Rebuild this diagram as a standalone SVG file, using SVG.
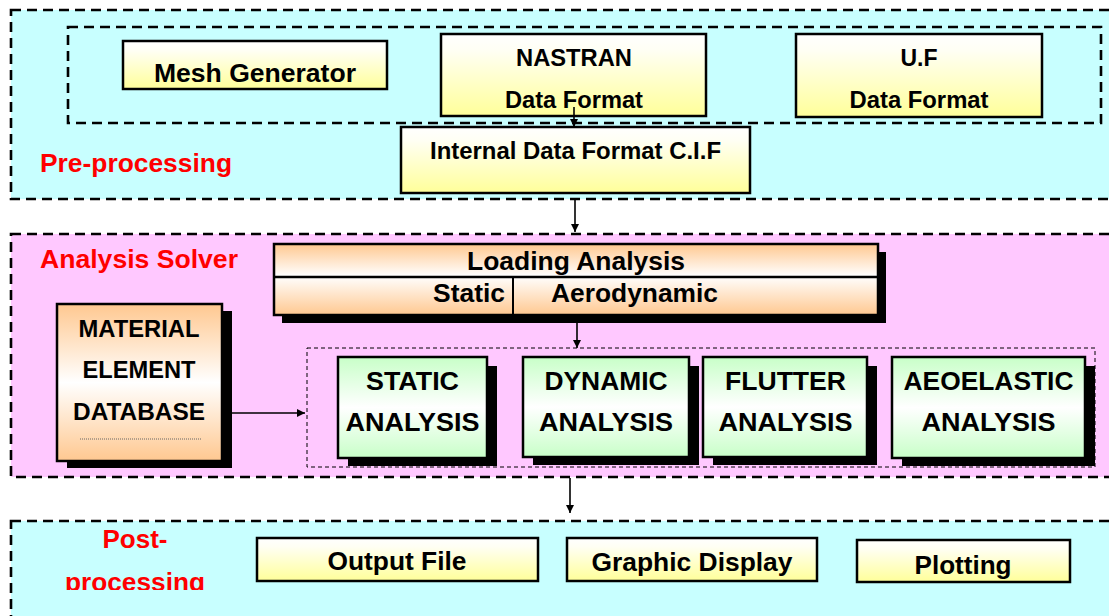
<svg xmlns="http://www.w3.org/2000/svg" width="1109" height="616" viewBox="0 0 1109 616">
<style>
.t{font-family:"Liberation Sans",Arial,sans-serif;font-weight:bold;fill:#000;text-anchor:middle}
.b{font-size:25px}
.s{font-size:23px}
.red{font-family:"Liberation Sans",Arial,sans-serif;font-weight:bold;fill:#FF0000;font-size:25px}
.box{stroke:#000;stroke-width:2.5}
.sh{fill:#000}
.dash{fill:none;stroke:#000;stroke-width:2.6;stroke-dasharray:10 6}
.thin{fill:none;stroke:#000;stroke-width:1;stroke-dasharray:4 3}
.ln{stroke:#000;stroke-width:1.6;fill:none}
</style>
<defs>
<linearGradient id="gy" x1="0" y1="0" x2="0" y2="1"><stop offset="0" stop-color="#FFFFFF"/><stop offset="0.2" stop-color="#FFFFF4"/><stop offset="1" stop-color="#FFFF99"/></linearGradient>
<linearGradient id="go" x1="0" y1="0" x2="0" y2="1"><stop offset="0" stop-color="#FFC890"/><stop offset="0.5" stop-color="#FFFFFF"/><stop offset="1" stop-color="#FFC890"/></linearGradient>
<linearGradient id="gl" x1="0" y1="0" x2="0" y2="1"><stop offset="0" stop-color="#FFC890"/><stop offset="0.45" stop-color="#FFFFFF"/><stop offset="1" stop-color="#FFC890"/></linearGradient>
<linearGradient id="gg" x1="0" y1="0" x2="0" y2="1"><stop offset="0" stop-color="#C8FFC8"/><stop offset="0.5" stop-color="#FFFFFF"/><stop offset="1" stop-color="#C8FFC8"/></linearGradient>
<marker id="ah" viewBox="0 0 10 10" refX="10" refY="5" markerWidth="8" markerHeight="8" markerUnits="userSpaceOnUse" orient="auto"><path d="M0,0 L10,5 L0,10 z" fill="#000"/></marker>
<clipPath id="pc"><rect x="0" y="500" width="300" height="90"/></clipPath>
</defs>

<g id="pre-processing">
<rect x="11" y="10" width="1110" height="189" fill="#C8FFFF"/>
<rect x="11" y="10" width="1110" height="189" class="dash"/>
<rect x="68" y="27" width="1033" height="96" class="dash"/>
<text x="40" y="172" class="red" textLength="192" lengthAdjust="spacingAndGlyphs">Pre-processing</text>
</g>

<g id="analysis-solver">
<rect x="11" y="234" width="1110" height="243" fill="#FFC8FF"/>
<rect x="11" y="234" width="1110" height="243" class="dash"/>
<text x="40" y="268" class="red" textLength="198" lengthAdjust="spacingAndGlyphs">Analysis Solver</text>
<rect x="307" y="348" width="788" height="119" class="thin"/>
</g>

<g id="post-processing">
<rect x="11" y="521" width="1110" height="110" fill="#C8FFFF"/>
<rect x="11" y="521" width="1110" height="110" class="dash"/>
<text x="135" y="548" class="red" text-anchor="middle" textLength="65" lengthAdjust="spacingAndGlyphs">Post-</text>
<g clip-path="url(#pc)"><text x="135" y="591" class="red" text-anchor="middle" textLength="140" lengthAdjust="spacingAndGlyphs">processing</text></g>
</g>

<g id="mesh-generator">
<rect x="123" y="41" width="264" height="48" fill="url(#gy)" class="box"/>
<text x="255" y="82" class="t b" textLength="202" lengthAdjust="spacingAndGlyphs">Mesh Generator</text>
</g>

<g id="nastran">
<rect x="441" y="34" width="265" height="82" fill="url(#gy)" class="box"/>
<text x="574" y="66" class="t s" textLength="116" lengthAdjust="spacingAndGlyphs">NASTRAN</text>
<text x="574" y="108" class="t s" textLength="138" lengthAdjust="spacingAndGlyphs">Data Format</text>
</g>

<g id="uf">
<rect x="796" y="34" width="246" height="83" fill="url(#gy)" class="box"/>
<text x="919" y="66" class="t s">U.F</text>
<text x="919" y="108" class="t s" textLength="139" lengthAdjust="spacingAndGlyphs">Data Format</text>
</g>

<g id="cif">
<rect x="401" y="127" width="349" height="66" fill="url(#gy)" class="box"/>
<text x="575.5" y="159" class="t s" textLength="291" lengthAdjust="spacingAndGlyphs">Internal Data Format C.I.F</text>
</g>

<g id="loading-analysis">
<rect x="282" y="252" width="604" height="71" class="sh"/>
<rect x="274" y="244" width="604" height="71" fill="url(#gl)" class="box"/>
<line x1="274" y1="277" x2="878" y2="277" class="box"/>
<line x1="513" y1="277" x2="513" y2="315" stroke="#000" stroke-width="2"/>
<text x="576" y="270" class="t b" textLength="218" lengthAdjust="spacingAndGlyphs">Loading Analysis</text>
<text x="505" y="302" class="t b" style="text-anchor:end" textLength="72" lengthAdjust="spacingAndGlyphs">Static</text>
<text x="551" y="302" class="t b" style="text-anchor:start" textLength="167" lengthAdjust="spacingAndGlyphs">Aerodynamic</text>
</g>

<g id="material-database">
<rect x="67" y="311" width="165" height="157" class="sh"/>
<rect x="57" y="304" width="165" height="157" fill="url(#go)" class="box"/>
<text x="139" y="337" class="t s" textLength="121" lengthAdjust="spacingAndGlyphs">MATERIAL</text>
<text x="139" y="378" class="t s" textLength="113" lengthAdjust="spacingAndGlyphs">ELEMENT</text>
<text x="139" y="420" class="t s" textLength="132" lengthAdjust="spacingAndGlyphs">DATABASE</text>
<line x1="80" y1="439" x2="202" y2="439" stroke="#666" stroke-width="1" stroke-dasharray="1 1"/>
</g>

<g id="static-analysis">
<rect x="348" y="366" width="149" height="100" class="sh"/>
<rect x="338" y="357" width="149" height="101" fill="url(#gg)" class="box"/>
<text x="412.5" y="390" class="t b" textLength="93" lengthAdjust="spacingAndGlyphs">STATIC</text>
<text x="412.5" y="431" class="t b" textLength="134" lengthAdjust="spacingAndGlyphs">ANALYSIS</text>
</g>

<g id="dynamic-analysis">
<rect x="533" y="366" width="166" height="99" class="sh"/>
<rect x="523" y="357" width="166" height="100" fill="url(#gg)" class="box"/>
<text x="606" y="390" class="t b" textLength="123" lengthAdjust="spacingAndGlyphs">DYNAMIC</text>
<text x="606" y="431" class="t b" textLength="134" lengthAdjust="spacingAndGlyphs">ANALYSIS</text>
</g>

<g id="flutter-analysis">
<rect x="713" y="366" width="164" height="99" class="sh"/>
<rect x="703" y="357" width="164" height="100" fill="url(#gg)" class="box"/>
<text x="785.5" y="390" class="t b" textLength="121" lengthAdjust="spacingAndGlyphs">FLUTTER</text>
<text x="785.5" y="431" class="t b" textLength="134" lengthAdjust="spacingAndGlyphs">ANALYSIS</text>
</g>

<g id="aeoelastic-analysis">
<rect x="902" y="366" width="193" height="100" class="sh"/>
<rect x="892" y="357" width="193" height="101" fill="url(#gg)" class="box"/>
<text x="988.5" y="390" class="t b" textLength="170" lengthAdjust="spacingAndGlyphs">AEOELASTIC</text>
<text x="988.5" y="431" class="t b" textLength="134" lengthAdjust="spacingAndGlyphs">ANALYSIS</text>
</g>

<g id="output-file">
<rect x="257" y="538" width="281" height="43" fill="url(#gy)" class="box"/>
<text x="397" y="570" class="t b" textLength="139" lengthAdjust="spacingAndGlyphs">Output File</text>
</g>

<g id="graphic-display">
<rect x="567" y="538" width="250" height="43" fill="url(#gy)" class="box"/>
<text x="692" y="571" class="t b" textLength="201" lengthAdjust="spacingAndGlyphs">Graphic Display</text>
</g>

<g id="plotting">
<rect x="857" y="540" width="213" height="42" fill="url(#gy)" class="box"/>
<text x="963" y="574" class="t b" textLength="97" lengthAdjust="spacingAndGlyphs">Plotting</text>
</g>

<g id="connectors">
<line x1="574" y1="107" x2="574" y2="127" class="ln" marker-end="url(#ah)"/>
<line x1="575" y1="198" x2="575" y2="232" class="ln" marker-end="url(#ah)"/>
<line x1="577" y1="323" x2="577" y2="348" class="ln" marker-end="url(#ah)"/>
<line x1="222" y1="413" x2="305" y2="413" class="ln" marker-end="url(#ah)"/>
<line x1="570" y1="478" x2="570" y2="513" class="ln" marker-end="url(#ah)"/>
</g>
</svg>
